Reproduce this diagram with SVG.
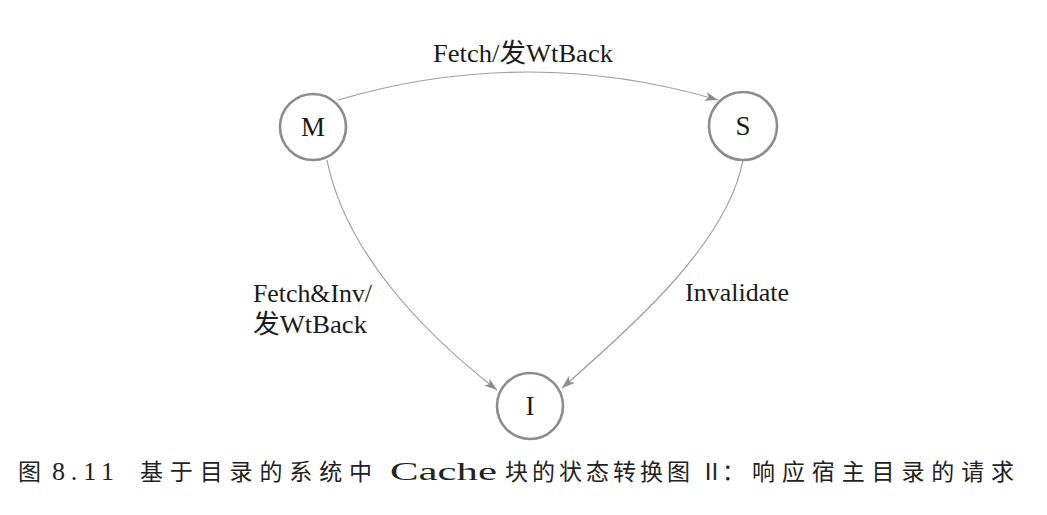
<svg xmlns="http://www.w3.org/2000/svg" width="1047" height="515" viewBox="0 0 1047 515">
  <defs>
    <style>
      .state { fill: #ffffff; stroke: #8c8c8c; stroke-width: 2.6; }
      .edge { fill: none; stroke: #9e9e9e; stroke-width: 1.2; }
      .lbl { font-family: "Liberation Serif", "Noto Sans CJK SC", serif; font-size: 26px; fill: #1a1a1a; }
      .node { font-family: "Liberation Serif", serif; font-size: 27px; fill: #1a1a1a; text-anchor: middle; }
      .cap { font-family: "Noto Sans CJK SC", sans-serif; font-size: 23px; fill: #222222; }
      .capl { font-family: "Liberation Serif", serif; font-size: 26px; fill: #222222; }
    </style>
    <marker id="arrow" markerWidth="14" markerHeight="10" refX="13" refY="4.5" orient="auto" markerUnits="userSpaceOnUse">
      <path d="M0,0 L13,4.5 L0,9 L3.5,4.5 Z" fill="#8c8c8c"/>
    </marker>
  </defs>
  <rect width="1047" height="515" fill="#ffffff"/>

  <g id="connectors">
    <path class="edge" d="M338,100 Q528,44 718,100" marker-end="url(#arrow)"/>
    <path class="edge" d="M327,160 C345,250 420,330 497,390" marker-end="url(#arrow)"/>
    <path class="edge" d="M743,160 C728,240 640,320 562,388" marker-end="url(#arrow)"/>
  </g>

  <g id="labels">
    <text class="lbl" x="433" y="62" textLength="180" lengthAdjust="spacingAndGlyphs">Fetch/发WtBack</text>
    <text class="lbl" x="253" y="302" textLength="119" lengthAdjust="spacingAndGlyphs">Fetch&amp;Inv/</text>
    <text class="lbl" x="253" y="333" textLength="114" lengthAdjust="spacingAndGlyphs">发WtBack</text>
    <text class="lbl" x="685" y="301" textLength="104" lengthAdjust="spacingAndGlyphs">Invalidate</text>
  </g>

  <g id="node-M">
    <circle class="state" cx="313" cy="127" r="33"/>
    <text class="node" x="313" y="136">M</text>
  </g>
  <g id="node-S">
    <circle class="state" cx="743" cy="126" r="34"/>
    <text class="node" x="743" y="135">S</text>
  </g>
  <g id="node-I">
    <circle class="state" cx="530" cy="406" r="33"/>
    <text class="node" x="530" y="415">I</text>
  </g>

  <g id="caption">
    <text class="cap" x="18" y="480">图</text>
    <text class="capl" x="52" y="480" textLength="62" lengthAdjust="spacing">8.11</text>
    <text class="cap" x="140" y="480" textLength="232" lengthAdjust="spacing">基于目录的系统中</text>
    <text class="capl" x="390" y="480" textLength="107" lengthAdjust="spacingAndGlyphs">Cache</text>
    <text class="cap" x="505" y="480" textLength="185" lengthAdjust="spacing">块的状态转换图</text>
    <text class="cap" x="700" y="480">Ⅱ</text>
    <text class="cap" x="722" y="480">：</text>
    <text class="cap" x="752" y="480" textLength="262" lengthAdjust="spacing">响应宿主目录的请求</text>
  </g>
</svg>
